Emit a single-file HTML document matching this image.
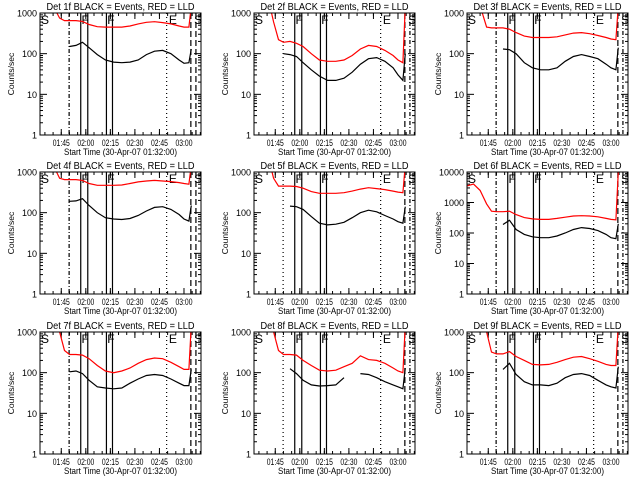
<!DOCTYPE html>
<html><head><meta charset="utf-8"><style>
body{margin:0;background:#fff;width:640px;height:480px;overflow:hidden}
svg text{font-family:"Liberation Sans",sans-serif;fill:#000}
</style></head><body>
<svg id="chart" width="640" height="480" viewBox="0 0 640 480" xmlns="http://www.w3.org/2000/svg"></svg>
<script>
// time samples (minutes after 01:32:00)
const times = [0,4,8,12,15,18,22,26,30,35,40,45,50,55,60,65,70,75,80,85,88,91,92.5];
const n = null;
const det1Red = [5000,5000,1500,750,650,650,650,620,520,460,450,450,450,480,540,590,610,580,540,480,450,450,1500];
const det1Black = [n,n,n,n,n,150,160,190,140,95,70,62,60,62,70,95,115,120,100,70,58,60,130];
const det2Red = [5000,5000,3000,600,220,190,200,180,150,100,70,65,65,70,90,130,160,150,120,90,70,60,1500];
const det2Black = [n,n,n,n,n,100,95,85,60,40,28,22,22,25,35,55,75,80,65,45,30,22,100];
const det3Red = [5000,5000,1500,450,430,430,430,400,330,270,250,250,250,260,290,320,330,310,280,250,230,220,1500];
const det3Black = [n,n,n,n,n,n,130,125,100,60,45,40,40,45,65,85,95,85,75,55,45,40,140];
const det4Red = [5000,5000,1500,700,650,650,650,620,520,470,470,470,480,520,570,600,620,600,580,550,520,500,1500];
const det4Black = [n,n,n,n,n,190,195,220,150,100,75,70,68,72,85,110,135,140,120,90,70,62,150];
const det5Red = [5000,5000,3000,700,450,450,450,440,400,330,300,300,300,310,340,380,410,390,370,340,320,310,1500];
const det5Black = [n,n,n,n,n,n,145,140,120,80,55,50,52,58,75,100,115,105,85,70,60,55,140];
const det6Red = [3500,4000,2500,900,520,500,500,520,400,320,290,280,280,300,330,360,370,360,340,300,280,270,10000];
const det6Black = [n,n,n,n,n,n,190,260,130,90,75,70,70,80,100,130,150,140,120,90,70,65,200];
const det7Red = [5000,5000,3000,1000,350,280,280,270,220,150,110,100,110,130,170,210,230,220,180,140,120,120,1500];
const det7Black = [n,n,n,n,n,105,110,95,65,45,42,40,42,55,70,85,90,85,70,55,48,48,120];
const det8Red = [5000,5000,3000,1000,350,280,280,270,200,150,115,110,115,140,170,260,210,200,170,130,110,100,1500];
const det8Black = [n,n,n,n,n,n,125,95,65,50,47,48,50,75,n,95,90,75,60,50,45,40,130];
const det9Red = [5000,5000,3000,1000,320,290,290,330,250,200,160,155,160,180,210,240,250,220,190,160,150,150,1500];
const det9Black = [n,n,n,n,n,n,120,170,90,60,50,50,48,55,75,90,95,85,65,50,45,42,140];
const redSeries = [det1Red,det2Red,det3Red,det4Red,det5Red,det6Red,det7Red,det8Red,det9Red];
const blackSeries = [det1Black,det2Black,det3Black,det4Black,det5Black,det6Black,det7Black,det8Black,det9Black];
const panelDecades = [3,3,3,3,3,4,3,3,3];
const xTickLabels = ["01:45","02:00","02:15","02:30","02:45","03:00"];
const xTickMinutes = [13,28,43,58,73,88];
const markerMinutes = [17.8,24.9,29.2,40.6,44.3,77.4,92.2,95.3];
const markerLetters = ["S","F","F","E","S"];
const letterMinutes = [0.6,25.4,41.1,78.8,94.2];

const svg = document.getElementById('chart');
const NS = 'http://www.w3.org/2000/svg';
function mk(tag, attrs, parent){const e=document.createElementNS(NS,tag);for(const k in attrs)e.setAttribute(k,attrs[k]);(parent||svg).appendChild(e);return e;}
const colX=[40,254,467], rowY=[13,172,332], W=161, H=122, MAXMIN=98.4;
const styles=[["4 2 1 2","none","none","none","none","1 3","6 3","6 3"],["1 3","none","none","none","none","1 3","6 3","4 2 1 2"],["4 2 1 2","none","none","none","none","1 3","6 3","4 2 1 2"]];

for(let p=0;p<9;p++){
  const c=p%3, r=Math.floor(p/3), x0=colX[c], y0=rowY[r], dec=panelDecades[p];
  const g=mk('g',{});
  
  
  const xs=m=>x0+m/MAXMIN*W;
  const ys=v=>y0+H-Math.log10(v)/dec*H;
  const cp=mk('clipPath',{id:'cp'+p},g);
  mk('rect',{x:x0,y:y0,width:W,height:H},cp);
  const t=mk('text',{x:x0+W/2,y:y0-3,'font-size':'10','text-anchor':'middle',textLength:148,lengthAdjust:'spacingAndGlyphs'},g);
  t.textContent='Det '+(p+1)+'f BLACK = Events, RED = LLD';
  
  
  for(let d=0;d<=dec;d++){
    const yy=ys(Math.pow(10,d));
    mk('line',{x1:x0,x2:x0+7,y1:yy,y2:yy,stroke:'#000'},g);
    mk('line',{x1:x0+W,x2:x0+W-7,y1:yy,y2:yy,stroke:'#000'},g);
    const lb=mk('text',{x:x0-3,y:yy+3.5,'font-size':'9','text-anchor':'end'},g);
    lb.textContent=String(Math.pow(10,d));
    
    
    if(d<dec){for(let k=2;k<10;k++){const ym=ys(k*Math.pow(10,d));
      mk('line',{x1:x0,x2:x0+3,y1:ym,y2:ym,stroke:'#000'},g);
      mk('line',{x1:x0+W,x2:x0+W-3,y1:ym,y2:ym,stroke:'#000'},g);}}
  }
  const yl=mk('text',{x:0,y:0,'font-size':'8.5','text-anchor':'middle',transform:`translate(${x0-26},${y0+H/2}) rotate(-90)`},g);
  yl.textContent='Counts/sec';
  
  
  for(let m=3;m<MAXMIN;m+=5){const xx=xs(m);
    mk('line',{x1:xx,x2:xx,y1:y0+H,y2:y0+H-3,stroke:'#000'},g);
    mk('line',{x1:xx,x2:xx,y1:y0,y2:y0+3,stroke:'#000'},g);}
  xTickMinutes.forEach((m,i)=>{const xx=xs(m);
    mk('line',{x1:xx,x2:xx,y1:y0+H,y2:y0+H-6,stroke:'#000'},g);
    mk('line',{x1:xx,x2:xx,y1:y0,y2:y0+6,stroke:'#000'},g);
    const lb=mk('text',{x:xx,y:y0+H+11,'font-size':'9','text-anchor':'middle',textLength:17,lengthAdjust:'spacingAndGlyphs'},g);
    lb.textContent=xTickLabels[i];
    
    });
  const xl=mk('text',{x:x0+W/2,y:y0+H+20,'font-size':'9.5','text-anchor':'middle',textLength:113,lengthAdjust:'spacingAndGlyphs'},g);
  xl.textContent='Start Time (30-Apr-07 01:32:00)';
  
  
  markerMinutes.forEach((m,i)=>{const xx=xs(m);const s=styles[c][i];
    const a={x1:xx,x2:xx,y1:y0,y2:y0+H,stroke:'#000','stroke-width':1.2};
    if(s!=='none')a['stroke-dasharray']=s;
    const ln=mk('line',a,g);
    
    });
  markerLetters.forEach((L,i)=>{const lt=mk('text',{x:xs(letterMinutes[i]),y:y0+11,'font-size':'12'},g);
    lt.textContent=L;
    
    });
  function path(arr){let d='',pen=false;arr.forEach((v,i)=>{if(v===null){pen=false;return;}
    d+=(pen?'L':'M')+xs(times[i]).toFixed(1)+' '+ys(v).toFixed(1)+' ';pen=true;});return d;}
  const rp=mk('path',{d:path(redSeries[p]),fill:'none',stroke:'#ff0000','stroke-width':1.2,'clip-path':`url(#cp${p})`},g);
  
  
  const bp=mk('path',{d:path(blackSeries[p]),fill:'none',stroke:'#000','stroke-width':1.2,'clip-path':`url(#cp${p})`},g);
  
  
  const fr=mk('rect',{x:x0,y:y0,width:W,height:H,fill:'none',stroke:'#000','stroke-width':1},g);
  
  
}
</script>
</body></html>
